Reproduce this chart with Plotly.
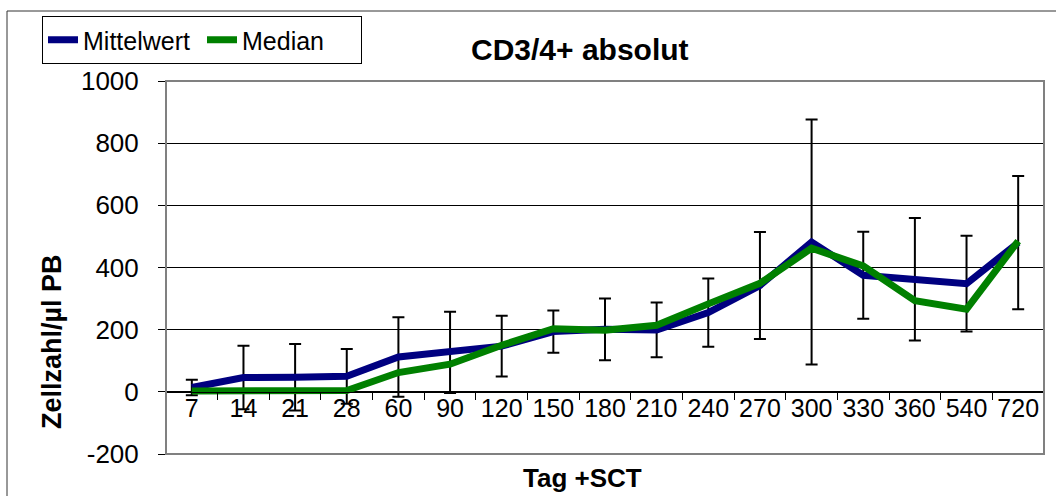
import plotly.graph_objects as go

# Days after SCT (category axis)
tage = ["7", "14", "21", "28", "60", "90", "120", "150", "180", "210",
        "240", "270", "300", "330", "360", "540", "720"]

# CD3/4+ absolute counts (cells/µl PB)
mittelwert = [14, 46, 47, 50, 112, 127, 147, 194, 201, 199,
              255, 342, 482, 375, 362, 348, 480]
median = [3, 3, 3, 4, 62, 89, 150, 203, 198, 214,
          283, 349, 462, 405, 293, 266, 485]
standardabweichung = [25, 102, 107, 88, 128, 131, 98, 68, 99, 88,
                      110, 172, 394, 140, 197, 154, 214]

# y-axis ticks
y_ticks = [-200, 0, 200, 400, 600, 800, 1000]
y_ticktext = ["-200", "0", "200", "400", "600", "800", "1000"]

FONT = "Liberation Sans, Arial, sans-serif"

fig = go.Figure()

# Error bars (mean ± SD)
fig.add_trace(go.Scatter(
    x=tage, y=mittelwert, mode="markers",
    marker=dict(size=1, color="rgba(0,0,0,0)"),
    error_y=dict(type="data", array=standardabweichung, visible=True,
                 color="black", thickness=2, width=6),
    showlegend=False, hoverinfo="skip",
))

fig.add_trace(go.Scatter(
    x=tage, y=mittelwert, mode="lines", name="Mittelwert",
    line=dict(color="#000080", width=7),
))
fig.add_trace(go.Scatter(
    x=tage, y=median, mode="lines", name="Median",
    line=dict(color="#008000", width=7),
))

L, R, T, B = 166, 12, 81, 42
W, H = 1056, 496
pw, ph = W - L - R, H - T - B


def px(xp):
    return (xp - L) / pw


def py(yp):
    return (H - B - yp) / ph


fig.update_layout(
    width=W, height=H,
    margin=dict(l=L, r=R, t=T, b=B),
    paper_bgcolor="white", plot_bgcolor="white",
    font=dict(family=FONT, size=26, color="black"),
    showlegend=True,
    legend=dict(
        orientation="h", x=px(42), y=py(40), xanchor="left", yanchor="middle",
        bordercolor="black", borderwidth=1, bgcolor="white",
        font=dict(family=FONT, size=25, color="black"),
        itemwidth=30, tracegroupgap=0,
        entrywidth=114, entrywidthmode="pixels",
    ),
    xaxis=dict(
        type="category", range=[-0.5, 16.5],
        anchor="free", position=200 / 1200,
        showline=True, linecolor="black", linewidth=1,
        ticks="outside", ticklen=7, tickcolor="black", tickwidth=1,
        tickson="boundaries", showgrid=False, zeroline=False,
        ticklabelstandoff=-6,
        tickfont=dict(family=FONT, size=25, color="black"),
    ),
    yaxis=dict(
        range=[-200, 1000], tickvals=y_ticks, ticktext=y_ticktext,
        showgrid=True, gridcolor="black", gridwidth=1, zeroline=False,
        showline=False,
        ticks="outside", ticklen=7, tickcolor="black", tickwidth=1,
        ticklabelstandoff=14,
        tickfont=dict(family=FONT, size=26, color="black"),
    ),
    shapes=[
        # plot area frame
        dict(type="rect", xref="paper", yref="paper", x0=0, x1=1, y0=0, y1=1,
             line=dict(color="#808080", width=2), layer="above"),
        # chart area frame
        dict(type="rect", xref="paper", yref="paper",
             x0=px(7), x1=px(1070), y0=py(520), y1=py(11),
             line=dict(color="#333333", width=1), layer="above"),
    ],
    annotations=[
        dict(text="<b>CD3/4+ absolut</b>", xref="paper", yref="paper",
             x=px(580), y=py(50), xanchor="center", yanchor="middle",
             showarrow=False, font=dict(family=FONT, size=30, color="black")),
        dict(text="<b>Zellzahl/µl PB</b>", xref="paper", yref="paper",
             x=px(52), y=py(341), xanchor="center", yanchor="middle",
             textangle=-90, showarrow=False,
             font=dict(family=FONT, size=27, color="black")),
        dict(text="<b>Tag +SCT</b>", xref="paper", yref="paper",
             x=px(582), y=py(478), xanchor="center", yanchor="middle",
             showarrow=False, font=dict(family=FONT, size=26, color="black")),
    ],
)

fig.write_html("out.html")
